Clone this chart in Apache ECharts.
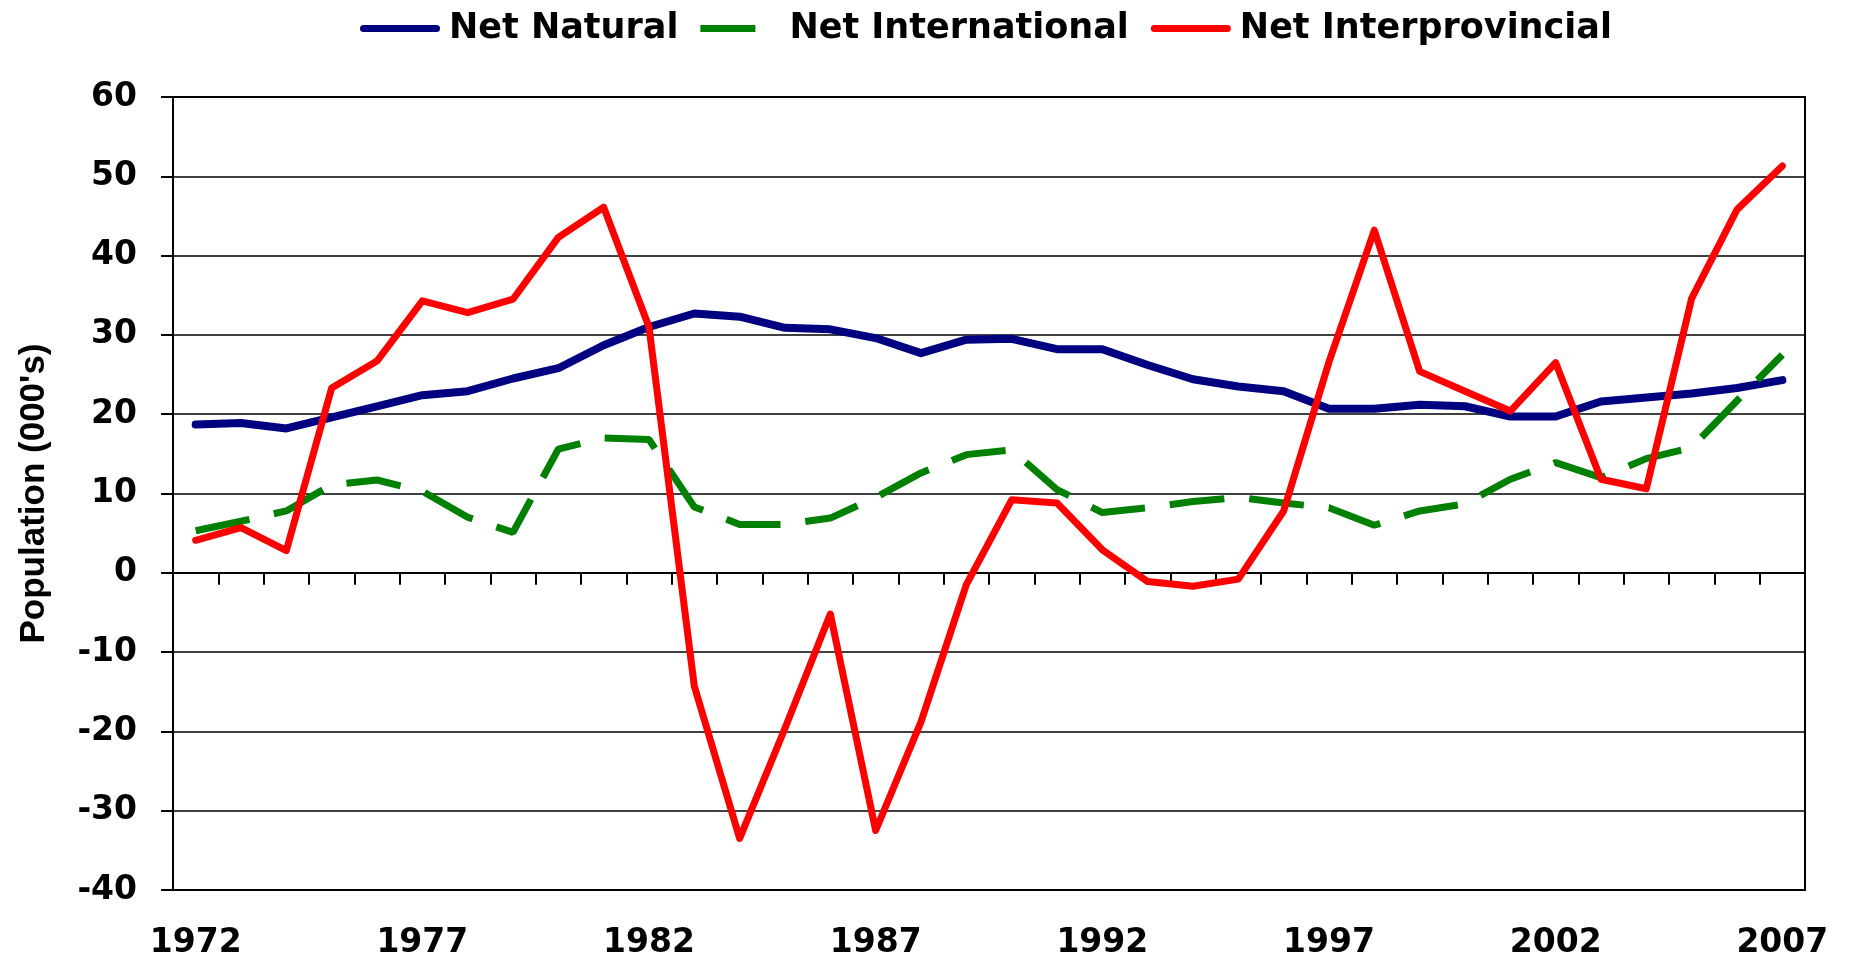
<!DOCTYPE html>
<html>
<head>
<meta charset="utf-8">
<title>Net migration components</title>
<script src="https://cdn.jsdelivr.net/npm/echarts@6/dist/echarts.min.js"></script>
<style>
  html, body { margin: 0; padding: 0; background: #fff; }
  #chart { width: 1854px; height: 960px; }
</style>
</head>
<body>
<div id="chart"></div>
<script>
// years on the x axis
const years = [
  '1972', '1973', '1974', '1975', '1976', '1977', '1978', '1979', '1980', '1981',
  '1982', '1983', '1984', '1985', '1986', '1987', '1988', '1989', '1990', '1991',
  '1992', '1993', '1994', '1995', '1996', '1997', '1998', '1999', '2000', '2001',
  '2002', '2003', '2004', '2005', '2006', '2007'
];

// population change, thousands
const netNatural = [
  18.7, 18.9, 18.2, 19.6, 21.0, 22.4, 22.9, 24.5, 25.8, 28.7,
  31.0, 32.7, 32.3, 30.9, 30.7, 29.6, 27.7, 29.4, 29.5, 28.2,
  28.2, 26.2, 24.4, 23.5, 22.9, 20.7, 20.7, 21.2, 21.0, 19.7,
  19.7, 21.6, 22.1, 22.6, 23.3, 24.3
];
const netInternational = [
  5.3, 6.5, 7.8, 11.1, 11.7, 10.3, 7.0, 5.1, 15.6, 17.0,
  16.8, 8.3, 6.1, 6.1, 6.9, 9.5, 12.6, 14.9, 15.5, 10.5,
  7.6, 8.2, 9.0, 9.5, 8.8, 8.2, 6.0, 7.8, 8.7, 11.8,
  13.9, 12.0, 14.4, 15.8, 21.7, 27.5
];
const netInterprovincial = [
  4.1, 5.7, 2.8, 23.3, 26.7, 34.3, 32.8, 34.5, 42.3, 46.1,
  31.0, -14.3, -33.5, -19.6, -5.2, -32.5, -18.8, -1.5, 9.2, 8.8,
  2.9, -1.1, -1.7, -0.8, 7.8, 26.6, 43.2, 25.4, 22.9, 20.4,
  26.5, 11.8, 10.6, 34.6, 45.8, 51.3
];

const FONT = 'DejaVu Sans';

// plain line icons for the legend (solid bar / one dash)
const solidIcon = 'path://M3.5,0H76.5A3.5,3.5,0,0,1,76.5,7H3.5A3.5,3.5,0,0,1,3.5,0Z';
const dashIcon = 'path://M0,0H55V7H0ZM80,3.5H80.01V3.51H80Z';

const chart = echarts.init(document.getElementById('chart'));

chart.setOption({
  animation: false,
  backgroundColor: '#fff',
  textStyle: { fontFamily: FONT },
  legend: {
    left: 355,
    top: 6,
    itemWidth: 80,
    itemHeight: 7,
    itemGap: 22,
    textStyle: {
      fontFamily: FONT,
      fontWeight: 'bold',
      fontSize: 35,
      color: '#000',
      padding: [0, 0, 0, 4]
    },
    data: [
      { name: 'Net Natural', icon: solidIcon },
      { name: 'Net International', icon: dashIcon },
      { name: 'Net Interprovincial', icon: solidIcon }
    ]
  },
  grid: {
    left: 173,
    right: 49,
    top: 97,
    bottom: 67,
    show: true,
    borderColor: '#000',
    borderWidth: 2,
    containLabel: false
  },
  xAxis: [
    {
      // labels along the bottom edge
      type: 'category',
      data: years,
      boundaryGap: true,
      position: 'bottom',
      axisLine: { show: false, onZero: false },
      axisTick: { show: false },
      splitLine: { show: false },
      axisLabel: {
        interval: 4,
        margin: 37,
        color: '#000',
        fontFamily: FONT,
        fontWeight: 'bold',
        fontSize: 33
      }
    },
    {
      // axis line with ticks sitting on zero
      type: 'category',
      data: years,
      boundaryGap: true,
      position: 'bottom',
      axisLine: { show: true, onZero: true, lineStyle: { color: '#000', width: 2 } },
      axisTick: { show: true, interval: 0, length: 12, lineStyle: { color: '#000', width: 2 } },
      axisLabel: { show: false },
      splitLine: { show: false }
    }
  ],
  yAxis: {
    type: 'value',
    min: -40,
    max: 60,
    interval: 10,
    name: "Population (000's)",
    nameLocation: 'middle',
    nameGap: 121,
    nameTextStyle: {
      fontFamily: 'Liberation Sans',
      fontWeight: 'bold',
      fontSize: 35,
      color: '#000'
    },
    axisLine: { show: true, lineStyle: { color: '#000', width: 2 } },
    axisTick: { show: true, length: 12, lineStyle: { color: '#000', width: 2 } },
    splitLine: { show: true, lineStyle: { color: '#000', width: 1.5 } },
    axisLabel: {
      margin: 36,
      color: '#000',
      fontFamily: FONT,
      fontWeight: 'bold',
      fontSize: 33
    }
  },
  series: [
    {
      name: 'Net Natural',
      type: 'line',
      data: netNatural,
      symbol: 'none',
      color: '#000080',
      lineStyle: { color: '#000080', width: 8, cap: 'round', join: 'round' }
    },
    {
      name: 'Net International',
      type: 'line',
      data: netInternational,
      symbol: 'none',
      color: '#008000',
      lineStyle: { color: '#008000', width: 7, type: [55, 25], cap: 'butt' }
    },
    {
      name: 'Net Interprovincial',
      type: 'line',
      data: netInterprovincial,
      symbol: 'none',
      color: '#ff0000',
      lineStyle: { color: '#ff0000', width: 7, cap: 'round', join: 'round' }
    }
  ]
});
</script>
</body>
</html>
